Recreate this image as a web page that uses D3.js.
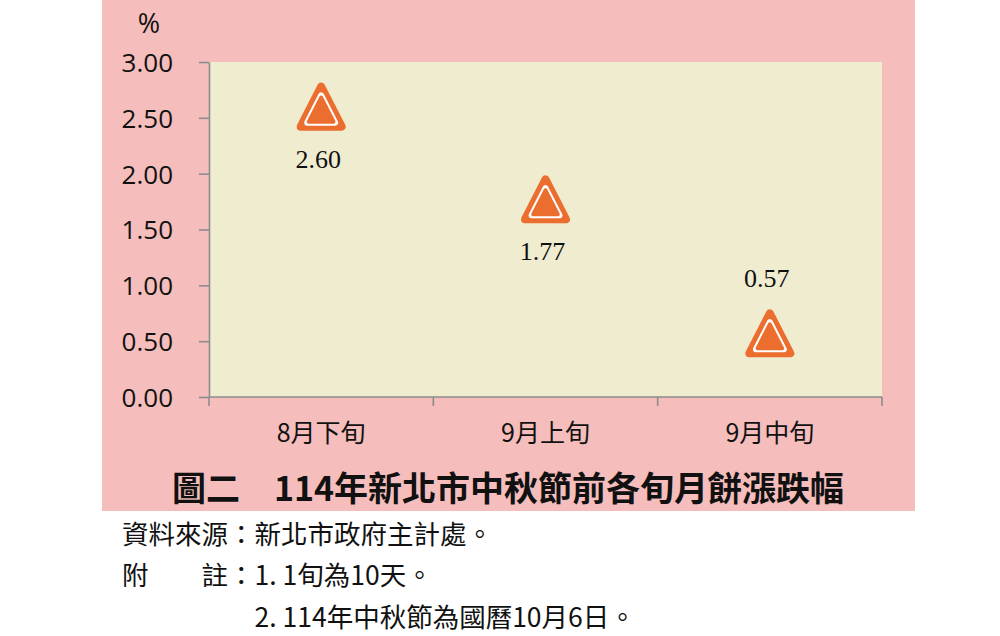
<!DOCTYPE html>
<html><head><meta charset="utf-8">
<script src="https://cdn.jsdelivr.net/npm/d3@7"></script>
<style>
html,body{margin:0;padding:0;background:#fff;}
svg{display:block;}
</style></head>
<body>
<svg id="chart" width="1000" height="636"></svg>
<script>
// ---- data ----
const categories = ["8月下旬", "9月上旬", "9月中旬"];
const values = [2.60, 1.77, 0.57];
const yTicks = [0, 0.5, 1.0, 1.5, 2.0, 2.5, 3.0];
const yUnit = "%";
const title = "圖二　114年新北市中秋節前各旬月餅漲跌幅";
const sourceLine = "資料來源：新北市政府主計處。";
const noteLabel = "附　　註：";
const notes = ["1. 1旬為10天。", "2. 114年中秋節為國曆10月6日。"];

// ---- layout ----
const W = 1000, H = 636;
const panel = {x: 102, y: 0, w: 813, h: 511};
const plot = {l: 209, r: 882, t: 62, b: 397};
const pink = "#F5BDBB", plotBg = "#F0ECD0", orange = "#EC6E2E", axisCol = "#8C8C8C";
const cjk = "'Noto Sans CJK TC','Noto Sans CJK SC',sans-serif";

const svg = d3.select("#chart");
svg.append("rect").attr("width", W).attr("height", H).attr("fill", "#fff");
svg.append("rect").attr("x", panel.x).attr("y", panel.y).attr("width", panel.w).attr("height", panel.h).attr("fill", pink);

const x = d3.scaleBand().domain(categories).range([plot.l, plot.r]);
const y = d3.scaleLinear().domain([0, 3]).range([plot.b, plot.t]);

svg.append("rect").attr("x", plot.l).attr("y", plot.t)
  .attr("width", plot.r - plot.l).attr("height", plot.b - plot.t).attr("fill", plotBg);

// y axis
const yAxis = svg.append("g").attr("transform", `translate(${plot.l},0)`)
  .call(d3.axisLeft(y).tickValues(yTicks).tickFormat(d3.format(".2f")).tickSize(10).tickPadding(26).tickSizeOuter(0));
yAxis.select(".domain").attr("stroke", axisCol).attr("stroke-width", 1.6);
yAxis.selectAll(".tick line").attr("stroke", axisCol).attr("stroke-width", 1.6);
yAxis.selectAll(".tick text").attr("font-family", "'Open Sans',sans-serif").attr("font-size", 26).attr("fill", "#111").attr("dy", "0.36em");

svg.append("text").attr("x", 149).attr("y", 22).attr("text-anchor", "middle").attr("dominant-baseline", "central")
  .attr("font-family", "'Open Sans',sans-serif").attr("font-size", 27).attr("fill", "#111").text(yUnit);

// x axis
const xg = svg.append("g");
xg.append("line").attr("x1", plot.l).attr("x2", plot.r).attr("y1", plot.b).attr("y2", plot.b)
  .attr("stroke", axisCol).attr("stroke-width", 1.6);
const boundaries = categories.map(c => x(c)).concat([x.range()[1]]);
xg.selectAll("line.tk").data(boundaries).join("line").attr("class", "tk")
  .attr("x1", d => d).attr("x2", d => d).attr("y1", plot.b).attr("y2", plot.b + 9)
  .attr("stroke", axisCol).attr("stroke-width", 1.6);
xg.selectAll("text").data(categories).join("text")
  .attr("x", d => x(d) + x.bandwidth() / 2).attr("y", plot.b + 34)
  .attr("text-anchor", "middle").attr("dominant-baseline", "central")
  .attr("font-family", cjk).attr("font-weight", 400).attr("font-size", 25).attr("fill", "#111").text(d => d);

// triangles
const core = {top: 20, bottom: 20, half: 20.5};
function triPath(cx, cy, inset) {
  const A = [cx, cy - core.top], B = [cx + core.half, cy + core.bottom], C = [cx - core.half, cy + core.bottom];
  const a = Math.hypot(B[0]-C[0], B[1]-C[1]), b = Math.hypot(A[0]-C[0], A[1]-C[1]), c = Math.hypot(A[0]-B[0], A[1]-B[1]);
  const p = a + b + c;
  const I = [(a*A[0] + b*B[0] + c*C[0]) / p, (a*A[1] + b*B[1] + c*C[1]) / p];
  const area = Math.abs((B[0]-A[0])*(C[1]-A[1]) - (C[0]-A[0])*(B[1]-A[1])) / 2;
  const r = 2 * area / p;
  const k = (r - inset) / r;
  const pts = [A, B, C].map(P => [I[0] + (P[0]-I[0]) * k, I[1] + (P[1]-I[1]) * k]);
  const path = d3.path();
  path.moveTo(pts[0][0], pts[0][1]); path.lineTo(pts[1][0], pts[1][1]); path.lineTo(pts[2][0], pts[2][1]); path.closePath();
  return path.toString();
}
const pts = categories.map((c, i) => ({c, v: values[i], cx: x(c) + x.bandwidth() / 2, cy: y(values[i])}));
const mk = svg.append("g").selectAll("g").data(pts).join("g");
mk.append("path").attr("d", d => triPath(d.cx, d.cy, 0)).attr("fill", orange).attr("stroke", orange)
  .attr("stroke-width", 8).attr("stroke-linejoin", "round");
mk.append("path").attr("d", d => triPath(d.cx, d.cy, 4)).attr("fill", "#fff").attr("stroke", "#fff")
  .attr("stroke-width", 6).attr("stroke-linejoin", "round");
mk.append("path").attr("d", d => triPath(d.cx, d.cy, 5.0)).attr("fill", orange).attr("stroke", orange)
  .attr("stroke-width", 4).attr("stroke-linejoin", "round");

// value labels: below the marker, or above when the marker sits low
mk.append("text").attr("x", d => d.cx - 3).attr("y", d => d.v < 1 ? d.cy - 46 : d.cy + 61)
  .attr("text-anchor", "middle").attr("font-family", "'Liberation Serif','Times New Roman',serif")
  .attr("font-size", 26).attr("fill", "#111").text(d => d.v.toFixed(2));

// title
svg.append("text").attr("x", 508).attr("y", 486).attr("text-anchor", "middle").attr("dominant-baseline", "central")
  .attr("font-family", cjk).attr("font-weight", 700).attr("font-size", 34).attr("fill", "#111").text(title);

// footer
const ft = svg.append("g").attr("font-family", cjk).attr("font-weight", 400).attr("font-size", 26.5).attr("fill", "#111");
ft.append("text").attr("x", 122).attr("y", 532).attr("dominant-baseline", "central").text(sourceLine);
ft.append("text").attr("x", 122).attr("y", 573).attr("dominant-baseline", "central").text(noteLabel + notes[0]);
ft.append("text").attr("x", 122 + 26.5 * 5).attr("y", 615).attr("dominant-baseline", "central").text(notes[1]);
</script>
</body></html>
